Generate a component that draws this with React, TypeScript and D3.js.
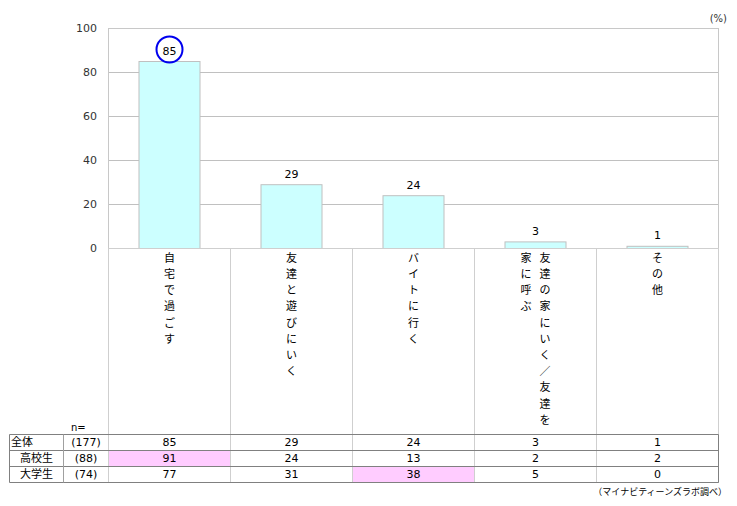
import React from 'react';
import * as d3 from 'd3';

// Chart data
const categories = ['自宅で過ごす', '友達と遊びにいく', 'バイトに行く', '友達の家にいく／友達を家に呼ぶ', 'その他'];
// vertical label columns, read right-to-left
const labelColumns = [
  ['自宅で過ごす'],
  ['友達と遊びにいく'],
  ['バイトに行く'],
  ['友達の家にいく／友達を', '家に呼ぶ'],
  ['その他'],
];
const totalValues = [85, 29, 24, 3, 1];
const groups = ['全体', '高校生', '大学生'];
const groupN = ['(177)', '(88)', '(74)'];
const highSchoolValues = [91, 24, 13, 2, 2];
const universityValues = [77, 31, 38, 5, 0];
const tableRows = [totalValues, highSchoolValues, universityValues];
// highlighted cells [row, column]
const highlighted = [[1, 0], [2, 2]];
const yTicks = [0, 20, 40, 60, 80, 100];

const W = 737;
const H = 506;
const plot = { left: 108.5, right: 718.5, top: 28.5, bottom: 248.5 };
const tableTop = 434.5;
const rowH = 16;
const tableLeft = 9.5;
const nColX = 63.5;

const JP = '"Noto Sans CJK JP", "DejaVu Sans", sans-serif';
const NUM = '"DejaVu Sans", "Noto Sans CJK JP", sans-serif';

export default function App() {
  const x = d3.scaleBand<string>()
    .domain(categories)
    .range([plot.left, plot.right])
    .paddingInner(0.5)
    .paddingOuter(0.25);
  const cols = d3.scaleBand<string>()
    .domain(categories)
    .range([plot.left, plot.right]);
  const y = d3.scaleLinear().domain([0, 100]).range([plot.bottom, plot.top]);
  const tableBottom = tableTop + rowH * groups.length;
  const maxIdx = d3.maxIndex(totalValues);

  return (
    <svg width={W} height={H} style={{ position: 'absolute', left: 0, top: 0, background: '#fff' }}>
      {/* gridlines */}
      {yTicks.map(t => (
        <line key={t} x1={plot.left} x2={plot.right} y1={y(t)} y2={y(t)} stroke="#c0c0c0" strokeWidth={1} />
      ))}
      <rect x={plot.left} y={plot.top} width={plot.right - plot.left} height={plot.bottom - plot.top}
        fill="none" stroke="#c8c8c8" />
      {yTicks.map(t => (
        <text key={t} x={97} y={y(t)} dy="0.35em" textAnchor="end" fontFamily={NUM} fontSize={11} fill="#333">{t}</text>
      ))}
      <text x={727} y={22} textAnchor="end" fontFamily={NUM} fontSize={10} fill="#333">(%)</text>

      {/* bars */}
      {categories.map((c, i) => (
        <rect key={c} x={x(c)} y={y(totalValues[i])} width={x.bandwidth()} height={y(0) - y(totalValues[i])}
          fill="#ccffff" stroke="#c0c0c0" strokeWidth={1} />
      ))}
      {categories.map((c, i) => (
        <text key={c} x={x(c)! + x.bandwidth() / 2} y={y(totalValues[i]) - 7} textAnchor="middle"
          fontFamily={NUM} fontSize={11} fill="#000">{totalValues[i]}</text>
      ))}
      <circle cx={x(categories[maxIdx])! + x.bandwidth() / 2} cy={y(totalValues[maxIdx]) - 12} r={13}
        fill="none" stroke="#0000ee" strokeWidth={2} />

      {/* category label area */}
      {categories.map((c, i) => (
        <rect key={c} x={cols(c)} y={plot.bottom} width={cols.bandwidth()} height={tableBottom - plot.bottom}
          fill="none" stroke="#cfcfcf" />
      ))}
      {categories.map((c, i) => {
        const cx = cols(c)! + cols.bandwidth() / 2;
        const colsText = labelColumns[i];
        const gap = 19;
        return colsText.map((txt, k) => {
          const colX = cx + ((colsText.length - 1) / 2 - k) * gap;
          return Array.from(txt).map((ch, j) => (
            <text key={`${i}-${k}-${j}`} x={colX} y={258 + j * 16.2} dy="0.35em" textAnchor="middle"
              fontFamily={JP} fontSize={11} fill="#000">{ch}</text>
          ));
        });
      })}

      {/* table */}
      {highlighted.map(([r, ci]) => (
        <rect key={`${r}-${ci}`} x={cols(categories[ci])! + 0.5} y={tableTop + r * rowH + 0.5}
          width={cols.bandwidth() - 1} height={rowH - 1} fill="#ffccff" />
      ))}
      <text x={71} y={427} dy="0.35em" fontFamily={NUM} fontSize={10} fill="#000">n=</text>
      {groups.map((g, r) => (
        <g key={g}>
          <text x={r === 0 ? 11 : 20} y={tableTop + r * rowH + rowH / 2} dy="0.36em"
            fontFamily={JP} fontSize={11} fill="#000">{g}</text>
          <text x={(nColX + plot.left) / 2} y={tableTop + r * rowH + rowH / 2} dy="0.36em" textAnchor="middle"
            fontFamily={NUM} fontSize={11} fill="#000">{groupN[r]}</text>
          {categories.map((c, ci) => (
            <text key={c} x={cols(c)! + cols.bandwidth() / 2} y={tableTop + r * rowH + rowH / 2} dy="0.36em"
              textAnchor="middle" fontFamily={NUM} fontSize={11} fill="#000">{tableRows[r][ci]}</text>
          ))}
        </g>
      ))}
      {d3.range(groups.length + 1).map(r => (
        <line key={r} x1={tableLeft} x2={plot.right} y1={tableTop + r * rowH} y2={tableTop + r * rowH}
          stroke="#808080" />
      ))}
      <line x1={tableLeft} x2={tableLeft} y1={tableTop} y2={tableBottom} stroke="#808080" />
      <line x1={nColX} x2={nColX} y1={tableTop} y2={tableBottom} stroke="#a0a0a0" />
      <line x1={plot.right} x2={plot.right} y1={tableTop} y2={tableBottom} stroke="#808080" />

      <text x={727} y={492} dy="0.35em" textAnchor="end" fontFamily={JP} fontSize={9} fill="#000">（マイナビティーンズラボ調べ）</text>
    </svg>
  );
}
